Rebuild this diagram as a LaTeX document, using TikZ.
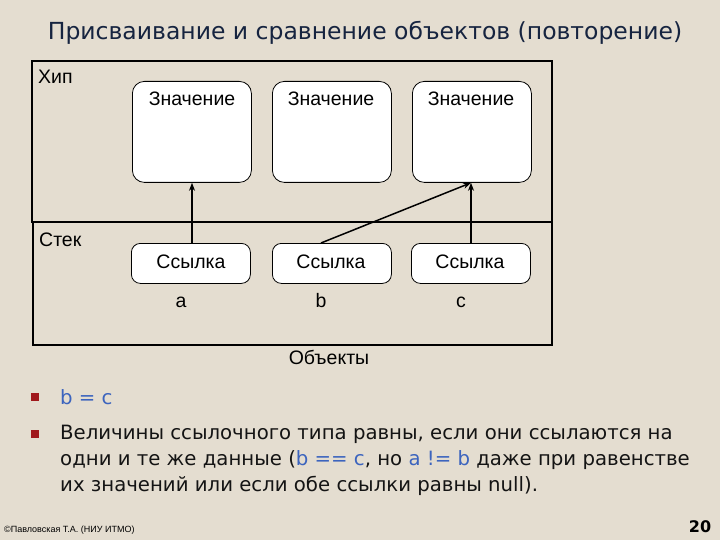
\documentclass[tikz,border=0pt]{standalone}
\usepackage{fontspec}
\setmainfont{Liberation Sans}
\newfontfamily\tah{DejaVu Sans}
\usetikzlibrary{arrows.meta}
\definecolor{bg}{RGB}{228,221,208}
\definecolor{titlec}{RGB}{22,36,64}
\definecolor{bulletc}{RGB}{160,24,28}
\definecolor{codec}{RGB}{60,100,190}
\definecolor{bodyc}{RGB}{20,20,20}
\begin{document}
\begin{tikzpicture}[x=1pt,y=-1pt,
  valbox/.style={draw=black,fill=white,rounded corners=12pt,line width=0.8pt,minimum width=119pt,minimum height=101pt,anchor=north west,inner sep=0pt},
  refbox/.style={draw=black,fill=white,rounded corners=9pt,line width=0.8pt,minimum width=119pt,minimum height=40pt,anchor=north west,inner sep=0pt},
  diag/.style={font=\fontsize{19.5}{22}\selectfont,text=black,inner sep=0pt,anchor=base},
  link/.style={line width=1.5pt,-{Stealth[length=8pt,width=6pt]}},
  frame/.style={draw=black,line width=1.1pt},
  bul/.style={fill=bulletc,minimum size=8pt,inner sep=0pt},
  body/.style={font=\tah\fontsize{19.7}{26}\selectfont,text=bodyc,anchor=west,inner sep=0pt}
]
\fill[bg] (0,0) rectangle (720,540);
\useasboundingbox (0,0) rectangle (720,540);
% title
\node[font=\tah\fontsize{23.5}{26}\selectfont,text=titlec,inner sep=0pt] (title) at (365,33) {Присваивание и сравнение объектов (повторение)};
% frames
\draw[frame] (32,61) rectangle (552,222);
\draw[frame] (33,222) rectangle (552,345);
\node[diag,anchor=base west] (heap) at (38,84) {Хип};
\node[diag,anchor=base west] (stack) at (39,246) {Стек};
% value boxes
\node[valbox] (v1) at (132,81) {};
\node[valbox] (v2) at (272,81) {};
\node[valbox] (v3) at (412,81) {};
\node[diag] (vt1) at (192,106) {Значение};
\node[diag] (vt2) at (331,106) {Значение};
\node[diag] (vt3) at (471,106) {Значение};
% reference boxes
\node[refbox] (r1) at (131,243) {};
\node[refbox] (r2) at (272,243) {};
\node[refbox] (r3) at (411,243) {};
\node[diag] (rt1) at (191,268) {Ссылка};
\node[diag] (rt2) at (331,268) {Ссылка};
\node[diag] (rt3) at (470,268) {Ссылка};
\node[diag] (la) at (181,307) {a};
\node[diag] (lb) at (321,307) {b};
\node[diag] (lc) at (461,307) {c};
\node[diag] (obj) at (329,364) {Объекты};
% links
\coordinate (s1) at (r1.north -| 192,0);
\coordinate (s2) at (r2.north -| 321,0);
\coordinate (s3) at (r3.north -| 471,0);
\coordinate (e1) at (v1.south -| 192,0);
\coordinate (e3) at (v3.south -| 471,0);
\draw[link] (s1) -- (e1);
\draw[link] (s2) -- (e3);
\draw[link] (s3) -- (e3);
% bullets
\node[bul] (b1) at (35,397) {};
\node[bul] (b2) at (35,434) {};
\node[body,text=codec] (t1) at (60,397) {b = c};
\node[body] (t2) at (60,434) {Величины ссылочного типа равны, если они ссылаются на};
\node[body] (t3) at (60,460) {одни и те же данные (\textcolor{codec}{b == c}, но \textcolor{codec}{a != b} даже при равенстве};
\node[body] (t4) at (60,486) {их значений или если обе ссылки равны null).};
% footer
\node[font=\fontsize{9}{10}\selectfont,anchor=west,inner sep=0pt] (foot) at (4,530) {©Павловская Т.А. (НИУ ИТМО)};
\node[font=\tah\bfseries\fontsize{16}{18}\selectfont,inner sep=0pt] (num) at (700,527) {20};
\end{tikzpicture}
\end{document}
